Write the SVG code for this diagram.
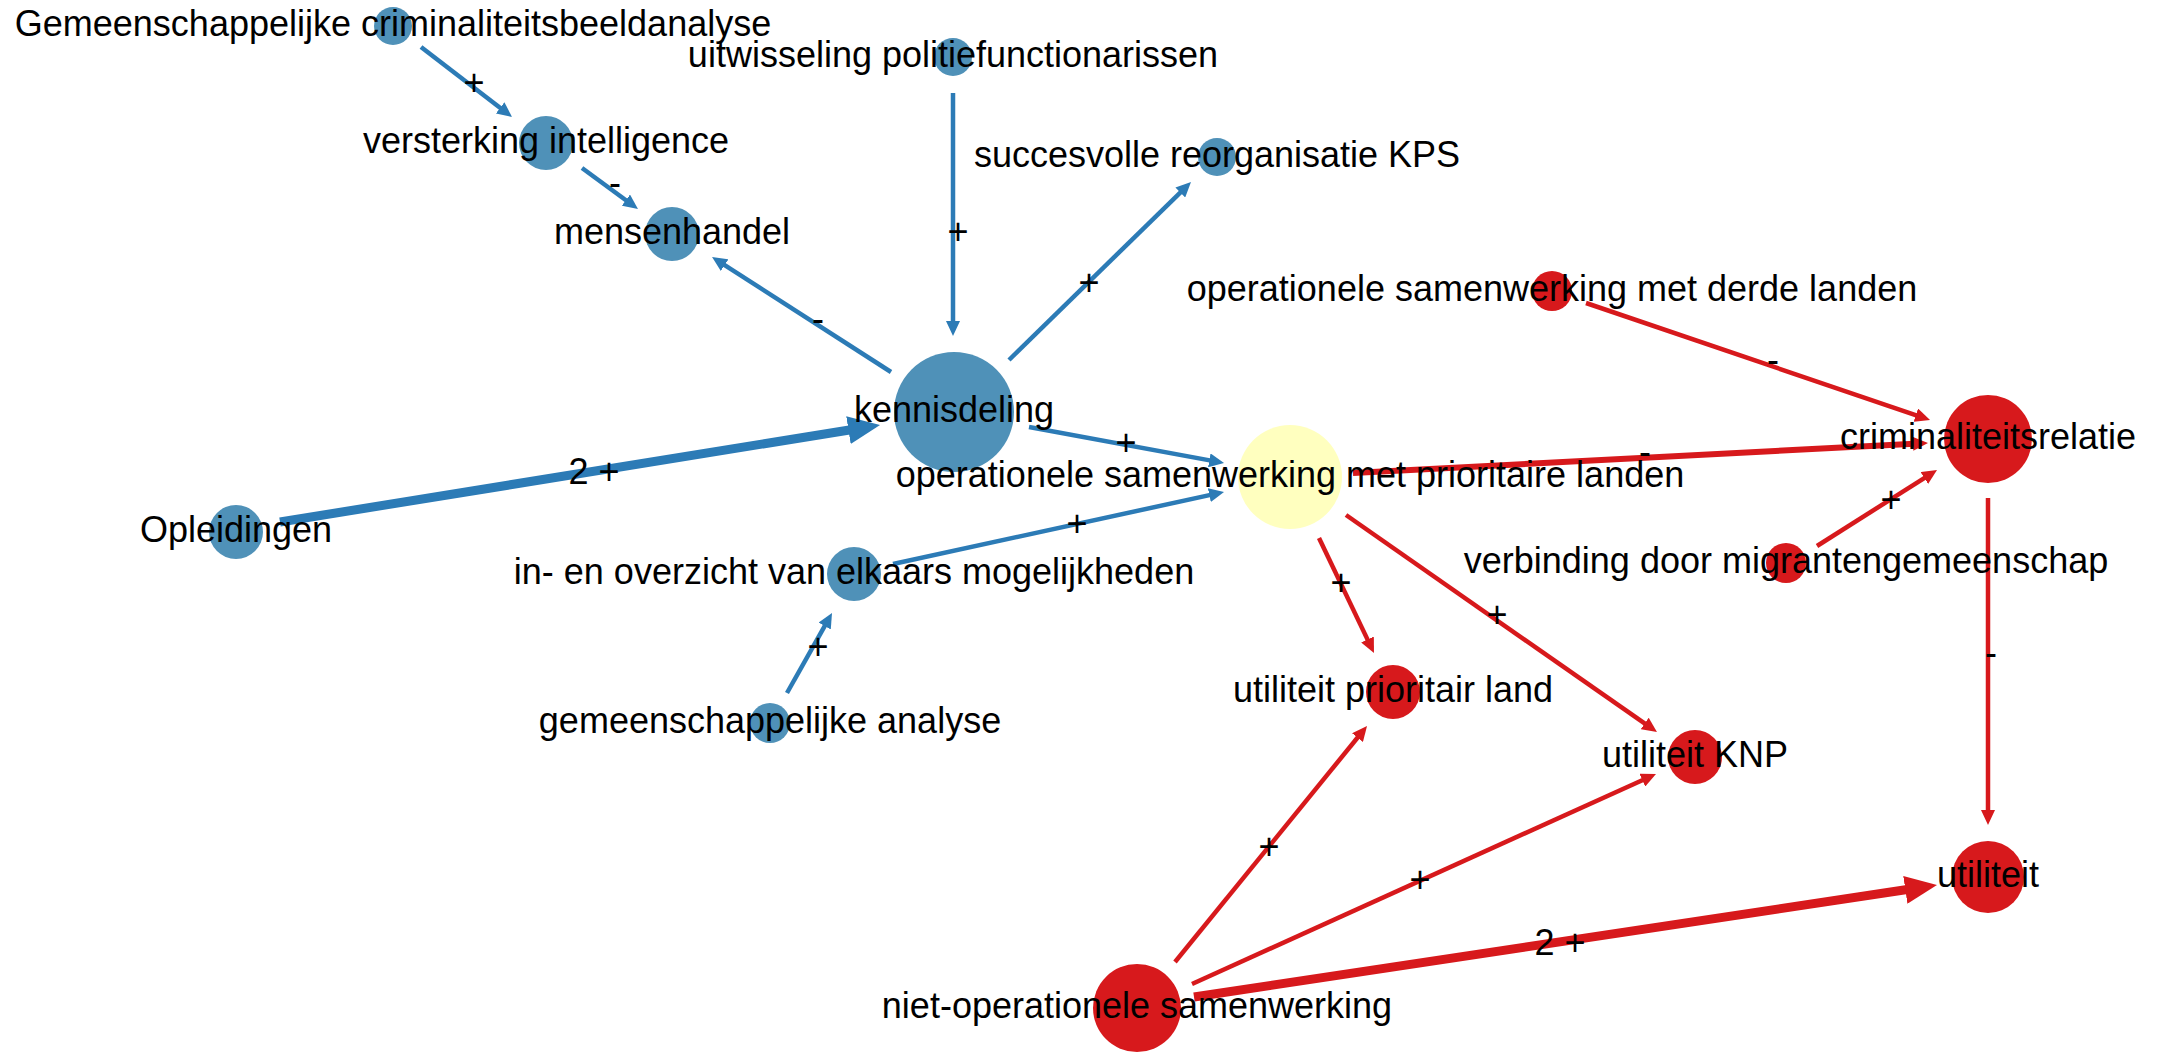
<svg xmlns="http://www.w3.org/2000/svg" width="2163" height="1052" viewBox="0 0 2163 1052">
<style>
.lbl{font-family:"Liberation Sans",Arial,sans-serif;font-size:36px;fill:#000;text-anchor:middle}
.eb{stroke:#2c7bb6;stroke-width:4.5;fill:none}
.er{stroke:#d7191c;stroke-width:4.5;fill:none}
.thick{stroke-width:9}
.mid{stroke-width:6}
.nb{fill:#4f91b8}
.nr{fill:#d7191c}
.ny{fill:#ffffbf}
</style>
<defs>
<marker id="aB" markerUnits="userSpaceOnUse" markerWidth="15" markerHeight="14" refX="6" refY="7" orient="auto"><path d="M0,0 L15,7 L0,14 z" fill="#2c7bb6"/></marker>
<marker id="aBT" markerUnits="userSpaceOnUse" markerWidth="32" markerHeight="28" refX="12" refY="14" orient="auto"><path d="M0,0 L32,14 L0,28 z" fill="#2c7bb6"/></marker>
<marker id="aR" markerUnits="userSpaceOnUse" markerWidth="15" markerHeight="14" refX="6" refY="7" orient="auto"><path d="M0,0 L15,7 L0,14 z" fill="#d7191c"/></marker>
<marker id="aRT" markerUnits="userSpaceOnUse" markerWidth="32" markerHeight="28" refX="12" refY="14" orient="auto"><path d="M0,0 L32,14 L0,28 z" fill="#d7191c"/></marker>
</defs>
<rect width="2163" height="1052" fill="#fff"/>
<g id="connectors">
<line class="eb" x1="421" y1="47" x2="504.9" y2="111.5" marker-end="url(#aB)"/>
<line class="eb" x1="582" y1="168" x2="630.7" y2="203.7" marker-end="url(#aB)"/>
<line class="eb" x1="891" y1="372" x2="719.6" y2="261.9" marker-end="url(#aB)"/>
<line class="eb" x1="953" y1="93" x2="953" y2="327" marker-end="url(#aB)"/>
<line class="eb" x1="1009" y1="360" x2="1184.6" y2="188.3" marker-end="url(#aB)"/>
<line class="eb thick" x1="280" y1="522" x2="860.3" y2="428.2" marker-end="url(#aBT)"/>
<line class="eb" x1="1029" y1="427" x2="1215.2" y2="461.4" marker-end="url(#aB)"/>
<line class="eb" x1="893" y1="564" x2="1215.2" y2="493.9" marker-end="url(#aB)"/>
<line class="eb" x1="787" y1="693" x2="827.6" y2="620.8" marker-end="url(#aB)"/>
<line class="er" x1="1586" y1="303" x2="1921.5" y2="417.1" marker-end="url(#aR)"/>
<line class="er mid" x1="1353" y1="473" x2="1919" y2="443.5" marker-end="url(#aR)"/>
<line class="er" x1="1817" y1="546" x2="1929.4" y2="474.8" marker-end="url(#aR)"/>
<line class="er" x1="1988" y1="498" x2="1988" y2="816" marker-end="url(#aR)"/>
<line class="er" x1="1319" y1="538" x2="1370.1" y2="644.9" marker-end="url(#aR)"/>
<line class="er" x1="1346" y1="515" x2="1649.6" y2="726.9" marker-end="url(#aR)"/>
<line class="er" x1="1175" y1="962" x2="1361.3" y2="733" marker-end="url(#aR)"/>
<line class="er" x1="1192" y1="984" x2="1647.8" y2="777.7" marker-end="url(#aR)"/>
<line class="er thick" x1="1194" y1="997" x2="1917.2" y2="888" marker-end="url(#aRT)"/>
<g class="lbl">
<text x="474" y="95">+</text>
<text x="615" y="195">-</text>
<text x="818" y="331">-</text>
<text x="958" y="244">+</text>
<text x="1089" y="295">+</text>
<text x="594" y="484">2 +</text>
<text x="1126" y="455">+</text>
<text x="1077" y="536">+</text>
<text x="818" y="659">+</text>
<text x="1773" y="372">-</text>
<text x="1645" y="464">-</text>
<text x="1891" y="512">+</text>
<text x="1991" y="665">-</text>
<text x="1341" y="595">+</text>
<text x="1497" y="627">+</text>
<text x="1269" y="859">+</text>
<text x="1420" y="892">+</text>
<text x="1560" y="955">2 +</text>
</g>
</g>
<g id="n1"><circle class="nb" cx="393" cy="26" r="19"/><text class="lbl" x="393" y="36">Gemeenschappelijke criminaliteitsbeeldanalyse</text></g>
<g id="n2"><circle class="nb" cx="546" cy="143" r="27"/><text class="lbl" x="546" y="153">versterking intelligence</text></g>
<g id="n3"><circle class="nb" cx="672" cy="234" r="27"/><text class="lbl" x="672" y="244">mensenhandel</text></g>
<g id="n4"><circle class="nb" cx="953" cy="57" r="19"/><text class="lbl" x="953" y="67">uitwisseling politiefunctionarissen</text></g>
<g id="n5"><circle class="nb" cx="1217" cy="157" r="19"/><text class="lbl" x="1217" y="167">succesvolle reorganisatie KPS</text></g>
<g id="n6"><circle class="nb" cx="954" cy="412" r="60"/><text class="lbl" x="954" y="422">kennisdeling</text></g>
<g id="n7"><circle class="nb" cx="236" cy="532" r="27"/><text class="lbl" x="236" y="542">Opleidingen</text></g>
<g id="n8"><circle class="nb" cx="854" cy="574" r="27"/><text class="lbl" x="854" y="584">in- en overzicht van elkaars mogelijkheden</text></g>
<g id="n9"><circle class="nb" cx="770" cy="723" r="20"/><text class="lbl" x="770" y="733">gemeenschappelijke analyse</text></g>
<g id="n10"><circle class="ny" cx="1290" cy="477" r="52"/><text class="lbl" x="1290" y="487">operationele samenwerking met prioritaire landen</text></g>
<g id="n11"><circle class="nr" cx="1552" cy="291" r="20"/><text class="lbl" x="1552" y="301">operationele samenwerking met derde landen</text></g>
<g id="n12"><circle class="nr" cx="1988" cy="439" r="44"/><text class="lbl" x="1988" y="449">criminaliteitsrelatie</text></g>
<g id="n13"><circle class="nr" cx="1786" cy="563" r="20"/><text class="lbl" x="1786" y="573">verbinding door migrantengemeenschap</text></g>
<g id="n14"><circle class="nr" cx="1393" cy="692" r="27"/><text class="lbl" x="1393" y="702">utiliteit prioritair land</text></g>
<g id="n15"><circle class="nr" cx="1695" cy="757" r="27"/><text class="lbl" x="1695" y="767">utiliteit KNP</text></g>
<g id="n16"><circle class="nr" cx="1988" cy="877" r="36"/><text class="lbl" x="1988" y="887">utiliteit</text></g>
<g id="n17"><circle class="nr" cx="1137" cy="1008" r="44"/><text class="lbl" x="1137" y="1018">niet-operationele samenwerking</text></g>
</svg>
